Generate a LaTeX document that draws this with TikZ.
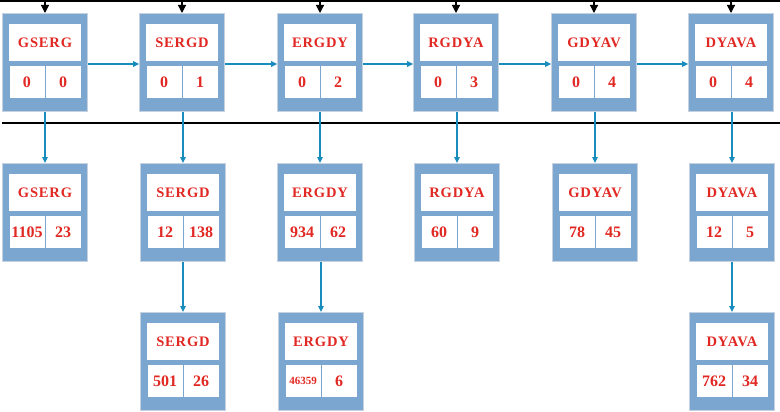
\documentclass[tikz,border=0pt]{standalone}
\usepackage{fontspec}
\setmainfont{Liberation Serif}
\newfontfamily\namefont[LetterSpace=6]{Liberation Serif}
\usetikzlibrary{arrows.meta, calc}
\definecolor{boxblue}{RGB}{122,166,208}
\definecolor{boxedge}{RGB}{198,210,224}
\definecolor{linkblue}{RGB}{25,140,190}
\definecolor{txtred}{RGB}{225,40,35}

% one record: name, x of centre, y of top, key, two counts
\newcommand{\record}[6]{%
  \node[outer, anchor=north] (#1) at (#2,#3) {};
  \node[namecell] (#1-n) at ($(#1.north)+(0,29.5)$) {#4};
  \node[numcell] (#1-a) at ($(#1.north)+(-18,69)$) {#5};
  \node[numcell] (#1-b) at ($(#1.north)+(18,69)$) {#6};
  \coordinate (#1-l) at ($(#1.north west)+(0,51)$);
  \coordinate (#1-r) at ($(#1.north east)+(0,51)$);
}

\begin{document}
\begin{tikzpicture}[x=1pt, y=-1pt,
    outer/.style={draw=boxedge, fill=boxblue, line width=0.6pt,
      minimum width=85pt, minimum height=98pt, inner sep=0pt},
    namecell/.style={fill=white, minimum width=72pt, minimum height=37pt,
      inner sep=0pt, text=txtred, font=\namefont\bfseries\fontsize{14.5}{14.5}\selectfont},
    numcell/.style={fill=white, minimum width=35pt, minimum height=32pt,
      inner sep=0pt, text=txtred, font=\bfseries\fontsize{16}{16}\selectfont},
    link/.style={linkblue, line width=1.3pt, -{Triangle[length=6pt,width=5.5pt]}},
    feed/.style={line width=1.2pt, -{Triangle[length=8pt,width=8pt]}},
    rule/.style={line width=1.8pt}]
    \useasboundingbox (0,0) rectangle (780,412);

    \coordinate (topl) at (0,1);
    \coordinate (topr) at (780,1);
    \coordinate (midl) at (2,123);
    \coordinate (midr) at (780,123);
    \draw[rule] (topl) -- (topr);
    \draw[rule] (midl) -- (midr);

    \record{gserg0}{45}{13}{GSERG}{0}{0}
    \record{sergd0}{182}{13}{SERGD}{0}{1}
    \record{ergdy0}{320}{13}{ERGDY}{0}{2}
    \record{rgdya0}{456}{13}{RGDYA}{0}{3}
    \record{gdyav0}{594}{13}{GDYAV}{0}{4}
    \record{dyava0}{731}{13}{DYAVA}{0}{4}

    \record{gserg1}{45}{163}{GSERG}{1105}{23}
    \record{sergd1}{183}{163}{SERGD}{12}{138}
    \record{ergdy1}{320}{163}{ERGDY}{934}{62}
    \record{rgdya1}{457}{163}{RGDYA}{60}{9}
    \record{gdyav1}{595}{163}{GDYAV}{78}{45}
    \record{dyava1}{732}{163}{DYAVA}{12}{5}

    \record{sergd2}{183}{312}{SERGD}{501}{26}
    \record{ergdy2}{321}{312}{ERGDY}{{\fontsize{11}{11}\selectfont 46359}}{6}
    \record{dyava2}{732}{312}{DYAVA}{762}{34}

    \foreach \n in {gserg0,sergd0,ergdy0,rgdya0,gdyav0,dyava0}
      \draw[feed] (\n.north |- topl) -- (\n.north);

    \draw[link] (gserg0-r) -- (sergd0-l);
    \draw[link] (sergd0-r) -- (ergdy0-l);
    \draw[link] (ergdy0-r) -- (rgdya0-l);
    \draw[link] (rgdya0-r) -- (gdyav0-l);
    \draw[link] (gdyav0-r) -- (dyava0-l);

    \draw[link] (gserg1.north |- gserg0.south) -- (gserg1.north);
    \draw[link] (sergd1.north |- sergd0.south) -- (sergd1.north);
    \draw[link] (ergdy1.north |- ergdy0.south) -- (ergdy1.north);
    \draw[link] (rgdya1.north |- rgdya0.south) -- (rgdya1.north);
    \draw[link] (gdyav1.north |- gdyav0.south) -- (gdyav1.north);
    \draw[link] (dyava1.north |- dyava0.south) -- (dyava1.north);

    \draw[link] (sergd2.north |- sergd1.south) -- (sergd2.north);
    \draw[link] (ergdy2.north |- ergdy1.south) -- (ergdy2.north);
    \draw[link] (dyava2.north |- dyava1.south) -- (dyava2.north);
\end{tikzpicture}
\end{document}
